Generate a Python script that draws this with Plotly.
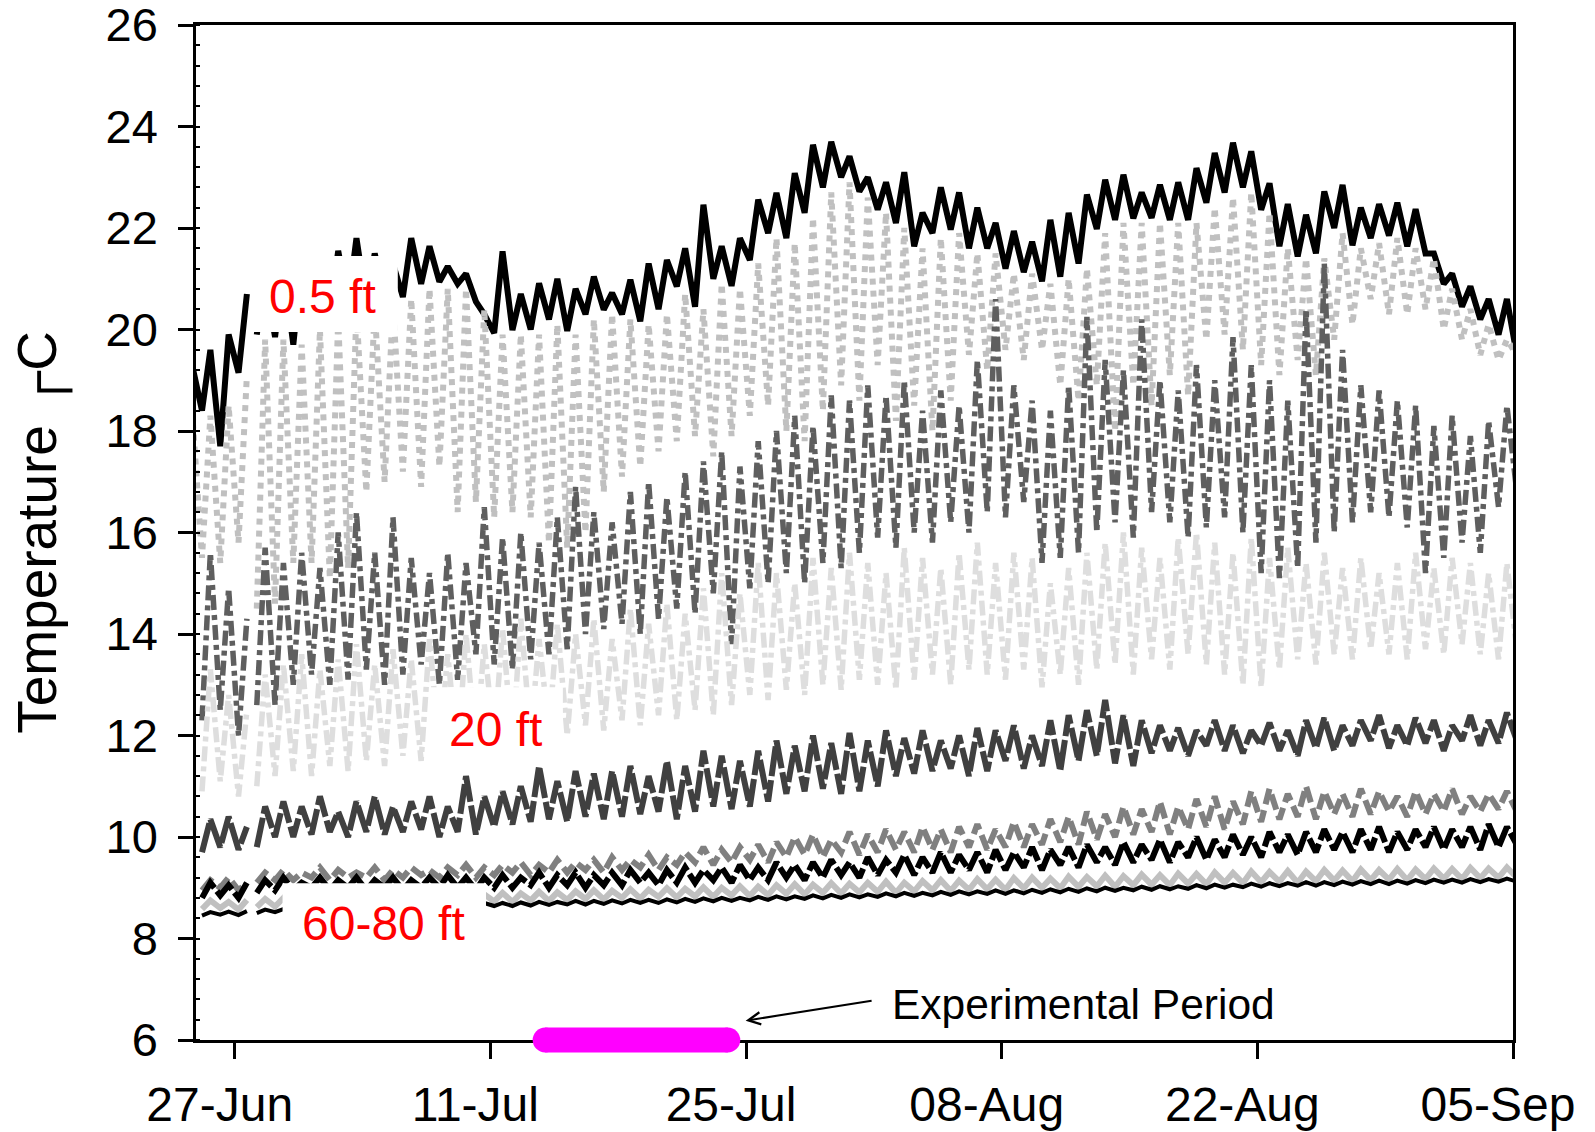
import plotly.graph_objects as go
from datetime import datetime, timedelta

# ---- data: daily low / high water temperature (deg C), one entry per day from 24-Jun ----
START = datetime(2009, 6, 24)
LOW_HOUR, HIGH_HOUR = 5, 16
GAPS = [datetime(2009, 6, 27, 20)]          # logger download gap

# 0.5 ft
a_low = [None, 18.4, 17.7, 19.15, 19.9, 19.85, 19.7, 20.1, 20.3, 20.5,
         20.5, 20.6, 20.64, 20.9, 20.94, 20.9, 20.55, 19.93, 19.99, 20.0,
         20.2, 19.97, 20.3, 20.39, 20.3, 20.16, 20.4, 20.85, 20.45, 21.0,
         20.86, 21.37, 21.9, 21.8, 22.3, 22.8, 23.0, 22.72, 22.36, 22.1,
         21.64, 21.9, 21.97, 21.6, 21.6, 21.2, 21.13, 20.95, 21.04, 21.3,
         21.98, 22.16, 22.19, 22.2, 22.16, 22.16, 22.5, 22.7, 22.8, 22.36,
         21.64, 21.44, 21.5, 22.0, 21.66, 21.8, 21.85, 21.64, 21.5, 20.9,
         20.45, 20.2, 19.9, 19.5]
a_high = [19.3, 19.6, 19.9, 20.7, 21.0, 21.2, 21.3, 21.3, 21.55, 21.8,
          21.5, 21.3, 21.8, 21.64, 21.24, 21.1, 20.3, 21.54, 20.7, 20.91,
          21.0, 20.8, 21.04, 20.72, 20.98, 21.3, 21.37, 21.6, 22.46, 21.64,
          21.8, 22.56, 22.69, 23.08, 23.64, 23.7, 23.41, 23.0, 22.9, 23.1,
          22.3, 22.8, 22.7, 22.4, 22.1, 21.94, 21.73, 22.16, 22.3, 22.66,
          22.95, 23.05, 22.7, 22.85, 22.9, 23.18, 23.48, 23.68, 23.51, 22.88,
          22.47, 22.26, 22.72, 22.85, 22.4, 22.47, 22.5, 22.37, 21.5, 21.1,
          20.85, 20.6, 20.6, None]

# 5 ft
b_low = [None, 15.5, 15.4, 15.8, 14.5, 14.6, 15.4, 15.4, 15.1, 15.3,
         16.8, 17.0, 17.2, 16.9, 17.3, 16.4, 16.6, 16.3, 16.4, 16.3,
         15.8, 15.7, 16.0, 16.8, 17.1, 17.3, 17.6, 17.8, 17.9, 17.5,
         17.9, 18.3, 18.5, 18.0, 17.8, 18.4, 18.9, 18.6, 19.3, 18.2,
         18.5, 18.0, 18.6, 19.5, 19.2, 19.6, 19.4, 19.6, 18.9, 18.6,
         18.9, 18.0, 18.9, 18.5, 19.1, 18.7, 19.8, 19.9, 19.6, 19.3,
         19.1, 19.4, 19.1, 19.8, 20.1, 20.6, 20.3, 20.3, 20.4, 20.0,
         19.8, 19.5, 19.4, 19.5]
b_high = [18.4, 18.3, 18.5, 19.1, 19.8, 19.8, 19.7, 20.0, 20.2, 20.4,
          20.4, 20.5, 20.6, 20.8, 20.8, 20.8, 20.4, 19.9, 19.9, 19.9,
          20.1, 19.9, 20.2, 20.3, 20.2, 20.1, 20.3, 20.7, 20.4, 20.9,
          20.8, 21.3, 21.8, 21.7, 22.2, 22.7, 22.9, 22.6, 22.3, 22.0,
          21.6, 21.8, 21.9, 21.5, 21.5, 21.1, 21.1, 20.9, 21.0, 21.2,
          21.9, 22.1, 22.1, 22.1, 22.1, 22.1, 22.4, 22.6, 22.7, 22.3,
          21.6, 21.4, 21.4, 21.9, 21.6, 21.7, 21.8, 21.6, 21.4, 20.8,
          20.4, 20.1, 19.8, None]

# 10 ft
c_low = [None, 12.3, 12.5, 12.0, 12.6, 12.6, 13.0, 13.2, 13.0, 13.1,
         13.3, 13.0, 13.2, 13.4, 13.0, 13.1, 13.6, 13.4, 13.3, 13.5,
         13.6, 13.7, 14.0, 14.1, 14.2, 14.0, 14.3, 14.5, 14.4, 14.8,
         13.8, 14.9, 15.0, 15.2, 15.0, 15.4, 15.3, 15.6, 15.9, 15.7,
         16.0, 15.8, 16.2, 16.0, 16.4, 16.3, 16.6, 15.4, 15.5, 15.6,
         16.0, 16.2, 15.9, 16.4, 16.2, 15.9, 16.1, 16.3, 16.0, 15.2,
         15.1, 15.3, 15.8, 16.0, 16.2, 16.4, 16.3, 16.1, 15.2, 15.5,
         15.8, 15.6, 16.5, 16.8]
c_high = [None, 15.6, 14.9, 14.3, 15.7, 15.4, 15.6, 15.3, 16.0, 16.4,
          15.6, 16.3, 15.5, 15.2, 15.6, 15.4, 16.5, 15.9, 16.0, 15.8,
          16.3, 16.9, 16.4, 16.2, 16.8, 17.0, 16.7, 17.2, 17.4, 17.6,
          17.3, 17.8, 18.0, 18.3, 18.1, 18.7, 18.6, 18.9, 18.7, 19.0,
          18.4, 18.8, 18.5, 19.4, 20.6, 18.9, 18.6, 18.4, 18.9, 20.25,
          19.4, 19.2, 20.2, 19.0, 18.8, 19.3, 19.0, 19.85, 19.3, 19.0,
          18.6, 20.4, 21.3, 19.6, 18.9, 18.8, 18.6, 18.5, 18.1, 18.3,
          17.9, 18.2, 18.5, None]

# 20 ft
d_low = [None, 10.9, 11.1, 10.8, 11.0, 11.2, 11.3, 11.2, 11.4, 11.3,
         11.5, 11.4, 11.6, 11.5, 11.7, 11.6, 11.8, 11.9, 11.8, 12.0,
         12.1, 12.0, 12.2, 12.1, 12.3, 12.2, 12.4, 12.3, 12.5, 12.4,
         12.6, 12.8, 12.7, 12.9, 12.8, 13.0, 12.9, 13.1, 13.0, 12.9,
         13.1, 13.2, 13.0, 13.3, 13.2, 13.1, 13.3, 12.95, 13.2, 13.0,
         13.3, 13.4, 13.2, 13.5, 13.3, 13.6, 13.4, 13.2, 13.0, 12.95,
         13.3, 13.5, 13.4, 13.6, 13.5, 13.7, 13.6, 13.5, 13.7, 13.6,
         13.8, 13.6, 13.5, 13.7]
d_high = [None, 13.3, 12.8, 12.5, 13.2, 13.4, 13.6, 13.3, 13.5, 13.8,
          13.4, 13.7, 13.5, 13.9, 13.6, 14.0, 13.8, 14.1, 14.3, 13.9,
          14.2, 14.0, 14.3, 13.9, 14.5, 14.2, 14.6, 14.4, 14.9, 15.2,
          14.8, 15.4, 15.2, 15.0, 15.5, 15.3, 15.6, 15.4, 15.2, 15.7,
          15.5, 15.3, 15.6, 15.8, 15.4, 15.6, 15.5, 15.0, 15.3, 15.6,
          15.8, 16.0, 15.7, 15.5, 15.9, 16.0, 15.8, 15.6, 15.9, 15.5,
          15.7, 15.4, 15.6, 15.3, 15.5, 15.2, 15.4, 15.6, 15.3, 15.5,
          15.4, 15.2, 15.4, None]

# 30 ft
e_low = [None, 9.7, 9.8, 9.75, 9.8, 10.0, 10.0, 10.05, 10.1, 10.0,
         10.1, 10.05, 10.1, 10.15, 10.0, 10.1, 10.05, 10.2, 10.25, 10.3,
         10.35, 10.3, 10.4, 10.35, 10.4, 10.45, 10.5, 10.35, 10.5, 10.6,
         10.55, 10.6, 10.7, 10.85, 10.9, 10.95, 10.85, 10.9, 11.0, 11.2,
         11.25, 11.3, 11.35, 11.2, 11.3, 11.5, 11.35, 11.4, 11.3, 11.5,
         11.6, 11.45, 11.4, 11.65, 11.7, 11.6, 11.8, 11.7, 11.65, 11.8,
         11.7, 11.6, 11.75, 11.7, 11.8, 11.9, 11.75, 11.8, 11.85, 11.7,
         11.9, 11.8, 11.85, 11.9]
e_high = [None, 10.35, 10.4, 10.2, 10.6, 10.7, 10.6, 10.8, 10.5, 10.7,
          10.8, 10.6, 10.7, 10.8, 10.6, 11.2, 10.8, 10.9, 11.0, 11.4,
          11.1, 11.3, 11.25, 11.3, 11.4, 11.2, 11.5, 11.4, 11.7, 11.6,
          11.5, 11.7, 11.9, 11.8, 12.0, 11.85, 12.05, 11.9, 12.1, 11.95,
          12.1, 11.9, 12.0, 12.15, 12.1, 12.2, 12.0, 12.3, 12.4, 12.5,
          12.7, 12.4, 12.3, 12.2, 12.15, 12.1, 12.3, 12.2, 12.1, 12.25,
          12.1, 12.3, 12.35, 12.2, 12.3, 12.4, 12.2, 12.35, 12.3, 12.2,
          12.4, 12.3, 12.45, None]

# 40 ft
f_low = [None, 8.95, 9.0, 8.95, 9.1, 9.15, 9.15, 9.2, 9.15, 9.2,
         9.2, 9.15, 9.2, 9.25, 9.2, 9.25, 9.2, 9.25, 9.3, 9.25,
         9.3, 9.3, 9.35, 9.3, 9.35, 9.4, 9.35, 9.45, 9.5, 9.45,
         9.5, 9.55, 9.5, 9.6, 9.65, 9.6, 9.7, 9.65, 9.7, 9.75,
         9.7, 9.75, 9.7, 9.8, 9.75, 9.8, 9.8, 9.85, 9.9, 9.85,
         9.95, 10.0, 10.05, 10.1, 10.05, 10.15, 10.2, 10.15, 10.25, 10.3,
         10.35, 10.4, 10.35, 10.45, 10.4, 10.45, 10.5, 10.4, 10.45, 10.5,
         10.45, 10.5, 10.55, 10.5]
f_high = [None, 9.15, 9.2, 9.1, 9.3, 9.35, 9.3, 9.4, 9.35, 9.3,
          9.4, 9.35, 9.4, 9.35, 9.4, 9.45, 9.4, 9.45, 9.5, 9.45,
          9.55, 9.5, 9.55, 9.6, 9.55, 9.65, 9.6, 9.7, 9.8, 9.75,
          9.8, 9.85, 9.9, 10.0, 10.05, 9.95, 10.1, 10.05, 10.15, 10.1,
          10.2, 10.15, 10.2, 10.25, 10.15, 10.3, 10.25, 10.35, 10.4, 10.5,
          10.45, 10.6, 10.55, 10.7, 10.6, 10.75, 10.8, 10.7, 10.9, 10.95,
          10.85, 11.0, 10.9, 10.85, 10.95, 10.9, 10.8, 10.9, 10.85, 10.95,
          10.8, 10.85, 10.9, None]

# 50 ft
g_low = [None, 8.8, 8.85, 8.8, 8.9, 8.95, 8.95, 9.0, 8.95, 9.0,
         8.95, 9.0, 8.95, 9.0, 9.0, 9.0, 8.95, 9.0, 9.0, 9.05,
         9.0, 9.05, 9.0, 9.05, 9.05, 9.1, 9.05, 9.1, 9.1, 9.15,
         9.1, 9.15, 9.15, 9.2, 9.15, 9.2, 9.25, 9.2, 9.25, 9.3,
         9.25, 9.3, 9.3, 9.35, 9.3, 9.35, 9.4, 9.35, 9.45, 9.4,
         9.5, 9.45, 9.5, 9.55, 9.5, 9.6, 9.55, 9.6, 9.65, 9.6,
         9.7, 9.65, 9.7, 9.75, 9.7, 9.75, 9.7, 9.75, 9.8, 9.75,
         9.8, 9.75, 9.8, 9.85]
g_high = [None, 9.1, 9.05, 9.1, 9.15, 9.2, 9.1, 9.2, 9.15, 9.2,
          9.15, 9.2, 9.15, 9.2, 9.25, 9.2, 9.2, 9.25, 9.2, 9.3,
          9.25, 9.3, 9.25, 9.3, 9.35, 9.3, 9.35, 9.4, 9.35, 9.4,
          9.45, 9.4, 9.5, 9.45, 9.5, 9.55, 9.5, 9.6, 9.55, 9.65,
          9.6, 9.7, 9.65, 9.7, 9.75, 9.7, 9.8, 9.75, 9.8, 9.85,
          9.8, 9.9, 9.85, 9.95, 9.9, 10.0, 9.95, 10.05, 10.0, 10.1,
          10.05, 10.1, 10.15, 10.1, 10.15, 10.2, 10.1, 10.15, 10.2, 10.15,
          10.2, 10.25, 10.2, None]

# 60 ft
h_low = [None, 8.58, 8.6, 8.57, 8.62, 8.63, 8.65, 8.64, 8.66, 8.65,
         8.68, 8.67, 8.7, 8.69, 8.7, 8.72, 8.71, 8.73, 8.72, 8.75,
         8.74, 8.76, 8.78, 8.77, 8.8, 8.79, 8.82, 8.81, 8.83, 8.82,
         8.85, 8.84, 8.86, 8.88, 8.87, 8.9, 8.89, 8.91, 8.92, 8.9,
         8.93, 8.95, 8.94, 8.96, 8.97, 8.96, 8.99, 9.0, 8.99, 9.02,
         9.03, 9.02, 9.05, 9.06, 9.05, 9.08, 9.07, 9.1, 9.09, 9.11,
         9.12, 9.1, 9.13, 9.14, 9.13, 9.15, 9.16, 9.15, 9.17, 9.18,
         9.17, 9.19, 9.2, 9.2]
h_high = [None, 8.75, 8.72, 8.76, 8.78, 8.8, 8.79, 8.82, 8.8, 8.83,
          8.82, 8.85, 8.84, 8.86, 8.85, 8.88, 8.87, 8.9, 8.89, 8.92,
          8.91, 8.93, 8.95, 8.94, 8.97, 8.96, 8.99, 8.98, 9.01, 9.0,
          9.03, 9.02, 9.05, 9.07, 9.06, 9.09, 9.08, 9.1, 9.12, 9.1,
          9.13, 9.15, 9.14, 9.17, 9.16, 9.19, 9.2, 9.18, 9.22, 9.21,
          9.24, 9.23, 9.26, 9.25, 9.28, 9.27, 9.3, 9.29, 9.32, 9.31,
          9.33, 9.32, 9.35, 9.34, 9.36, 9.35, 9.37, 9.36, 9.38, 9.37,
          9.39, 9.38, 9.4, None]

# 80 ft
i_low = [None, 8.45, 8.47, 8.46, 8.5, 8.52, 8.53, 8.55, 8.56, 8.57,
         8.58, 8.59, 8.6, 8.61, 8.62, 8.62, 8.63, 8.64, 8.64, 8.65,
         8.66, 8.67, 8.67, 8.68, 8.69, 8.7, 8.7, 8.71, 8.72, 8.73,
         8.74, 8.75, 8.76, 8.77, 8.78, 8.79, 8.8, 8.81, 8.82, 8.83,
         8.84, 8.85, 8.86, 8.87, 8.88, 8.88, 8.89, 8.9, 8.91, 8.92,
         8.93, 8.94, 8.95, 8.96, 8.97, 8.98, 8.99, 9.0, 9.01, 9.02,
         9.03, 9.04, 9.04, 9.05, 9.06, 9.07, 9.07, 9.08, 9.09, 9.1,
         9.1, 9.11, 9.12, 9.12]
i_high = [None, 8.52, 8.53, 8.54, 8.57, 8.58, 8.6, 8.61, 8.63, 8.63,
          8.65, 8.66, 8.66, 8.68, 8.68, 8.69, 8.7, 8.7, 8.71, 8.72,
          8.72, 8.74, 8.74, 8.75, 8.76, 8.76, 8.77, 8.78, 8.79, 8.8,
          8.8, 8.82, 8.83, 8.83, 8.85, 8.86, 8.87, 8.87, 8.89, 8.9,
          8.9, 8.92, 8.93, 8.93, 8.95, 8.95, 8.96, 8.97, 8.98, 8.99,
          9.0, 9.0, 9.02, 9.03, 9.03, 9.05, 9.06, 9.06, 9.08, 9.09,
          9.09, 9.11, 9.11, 9.12, 9.13, 9.14, 9.14, 9.15, 9.16, 9.16,
          9.17, 9.17, 9.18, None]

tick_dates = ["2009-06-27", "2009-07-11", "2009-07-25", "2009-08-08", "2009-08-22", "2009-09-05"]
tick_text = ["27-Jun", "11-Jul", "25-Jul", "08-Aug", "22-Aug", "05-Sep"]
exp_period = ["2009-07-14 00:00", "2009-07-24 00:00"]

FONT = "Liberation Sans, Arial, sans-serif"


def daily_cycle(lows, highs):
    assert len(lows) == len(highs)
    pts = []
    for n, (lo, hi) in enumerate(zip(lows, highs)):
        day = START + timedelta(days=n)
        pts.append((day + timedelta(hours=LOW_HOUR), lo))
        pts.append((day + timedelta(hours=HIGH_HOUR), hi))
    pts += [(g, None) for g in GAPS]
    pts.sort(key=lambda p: p[0])
    return [p[0] for p in pts], [p[1] for p in pts]


series = [
    (a_low, a_high, "#000000", 6, "solid"),
    (b_low, b_high, "#c0c0c0", 6, "dot"),
    (c_low, c_high, "#5f5f5f", 5.5, "15px,5px,5px,5px"),
    (d_low, d_high, "#dedede", 5.5, "15px,5px,5px,5px"),
    (e_low, e_high, "#404040", 6, "30px,4px"),
    (f_low, f_high, "#808080", 6, "16px,6px"),
    (g_low, g_high, "#000000", 6, "24px,4px"),
    (h_low, h_high, "#c0c0c0", 6, "solid"),
    (i_low, i_high, "#000000", 4, "solid"),
]

fig = go.Figure()
for lows, highs, color, width, dash in series:
    xs, ys = daily_cycle(lows, highs)
    fig.add_trace(go.Scatter(x=xs, y=ys, mode="lines",
                             line=dict(color=color, width=width, dash=dash),
                             showlegend=False, hoverinfo="skip"))

# white backgrounds behind the depth labels
label_boxes = [
    ("2009-06-27 22:19", "2009-07-05 22:19", 19.95, 21.45),
    ("2009-07-07 16:19", "2009-07-14 23:17", 11.38, 12.95),
    ("2009-06-29 14:53", "2009-07-10 18:14", 7.49, 9.09),
]
shapes = []
for x0, x1, y0, y1 in label_boxes:
    shapes.append(dict(type="rect", xref="x", yref="y", x0=x0, x1=x1, y0=y0, y1=y1,
                       fillcolor="white", line=dict(width=0), layer="above"))

# experimental period bar on the time axis, with rounded ends
shapes.append(dict(type="line", xref="x", yref="paper", x0=exp_period[0], x1=exp_period[1],
                   y0=0, y1=0, line=dict(color="#ff00ff", width=25), layer="above"))
for end in exp_period:
    shapes.append(dict(type="circle", xref="x", yref="paper", xsizemode="pixel", ysizemode="pixel",
                       xanchor=end, yanchor=0, x0=-12.5, x1=12.5, y0=-12.5, y1=12.5,
                       fillcolor="#ff00ff", line=dict(width=0), layer="above"))

annotations = [
    dict(x="2009-07-01 19:55", y=20.66, text="0.5 ft", showarrow=False,
         font=dict(family=FONT, size=48, color="#ff0000")),
    dict(x="2009-07-11 06:29", y=12.12, text="20 ft", showarrow=False,
         font=dict(family=FONT, size=48, color="#ff0000")),
    dict(x="2009-07-05 03:22", y=8.29, text="60-80 ft", showarrow=False,
         font=dict(family=FONT, size=48, color="#ff0000")),
    dict(x="2009-08-12 11:15", y=6.70, text="Experimental Period", showarrow=False,
         font=dict(family=FONT, size=42.5, color="#000000")),
    dict(x="2009-07-24 23:30", y=6.38, ax="2009-07-31 23:00", ay=6.78, axref="x", ayref="y",
         text="", showarrow=True, arrowhead=5, arrowsize=1.2, arrowwidth=2, arrowcolor="#000000"),
]

fig.update_layout(
    template="none",
    width=1595, height=1132,
    margin=dict(l=196, r=82, t=25, b=92, autoexpand=False),
    paper_bgcolor="white", plot_bgcolor="white",
    font=dict(family=FONT, color="#000000"),
    shapes=shapes, annotations=annotations,
)
fig.update_xaxes(
    type="date", range=["2009-06-24 21:07", "2009-09-05 00:00"], automargin=False,
    tickvals=tick_dates, ticktext=tick_text, tickfont=dict(size=48),
    ticks="outside", ticklen=16, tickwidth=2.5, tickcolor="#000000",
    ticklabelshift=-15, ticklabelstandoff=5, ticklabeloverflow="allow",
    showline=True, linecolor="#000000", linewidth=2.5, mirror=True,
    showgrid=False, zeroline=False,
)
fig.update_yaxes(
    range=[6, 26], tickvals=list(range(6, 27, 2)), tickfont=dict(size=47), automargin=False,
    ticks="outside", ticklen=15, tickwidth=2.5, tickcolor="#000000",
    ticklabelstandoff=11, ticklabeloverflow="allow",
    minor=dict(dtick=0.4, ticks="inside", ticklen=4, tickwidth=1.5, tickcolor="#000000", showgrid=False),
    showline=True, linecolor="#000000", linewidth=2.5, mirror=True,
    showgrid=False, zeroline=False,
    title=dict(text="Temperature \u250cC", font=dict(size=55), standoff=32),
)

fig.write_html("out.html")
